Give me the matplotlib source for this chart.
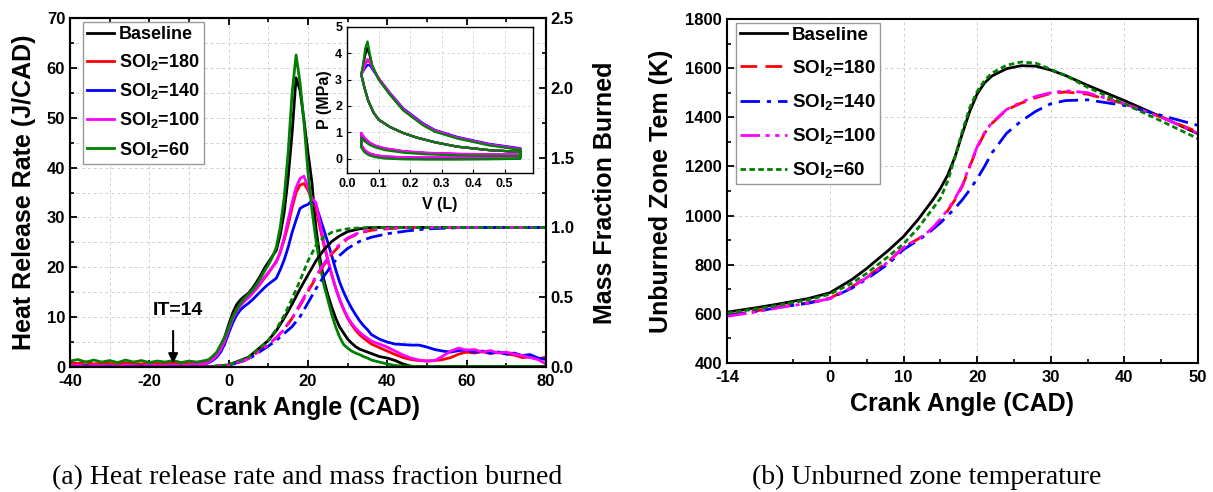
import numpy as np
import matplotlib
matplotlib.use('Agg')
import matplotlib.pyplot as plt
from matplotlib.ticker import MultipleLocator, FixedLocator

plt.rcParams['font.family'] = ['Liberation Sans', 'DejaVu Sans']
plt.rcParams['font.weight'] = 'bold'
plt.rcParams['axes.labelweight'] = 'bold'
plt.rcParams['mathtext.default'] = 'regular'
plt.rcParams['axes.unicode_minus'] = False

labels = ['Baseline', 'SOI$_2$=180', 'SOI$_2$=140', 'SOI$_2$=100', 'SOI$_2$=60']
colors = ['black', '#ff0000', '#0000ff', '#ff00ff', '#008000']

# ---- heat release rate (J/CAD) ----
hrr_cad = np.concatenate([np.arange(-40, -5, 2), np.arange(-5, 36, 1), np.arange(36, 81, 2)])
hrr_base = [0.4, 0.5, 0.3, 0.5, 0.4, 0.5, 0.3, 0.5, 0.4, 0.5, 0.4, 0.5, 0.3, 0.5, 0.4, 0.6, 0.5, 0.7,
            1.1, 1.6, 2.5, 4.0, 6.0, 8.5, 10.8, 12.5, 13.5, 14.2, 14.8, 15.8, 17.0, 18.3, 19.8, 21.0,
            22.2, 23.4, 26.5, 31.0, 38.0, 47.0, 58.0, 55.5, 49.5, 43.0, 37.0, 28.0, 22.0, 17.5, 14.5,
            12.0, 9.8, 8.0, 6.8, 5.6, 4.8, 4.1, 3.6, 3.3, 3.0,
            2.7, 2.1, 1.8, 1.3, 0.6, 0.15, 0.1, 0.1, 0.1, 0.1, 0.1, 0.1, 0.1, 0.1, 0.1, 0.1, 0.1,
            0.1, 0.1, 0.1, 0.1, 0.1, 0.1]
hrr_180 = [0.9, 0.7, 1.0, 0.6, 0.8, 0.7, 0.6, 0.8, 0.7, 0.6, 0.8, 0.7, 0.6, 0.8, 0.7, 0.7, 0.8, 0.9,
           1.2, 1.8, 2.6, 3.8, 5.5, 7.8, 10.0, 11.6, 12.6, 13.4, 14.0, 14.8, 15.7, 16.7, 17.8, 18.8,
           20.0, 21.2, 23.0, 25.5, 28.5, 32.0, 35.0, 36.5, 36.8, 35.5, 33.5, 32.0, 28.0, 24.5, 21.5,
           18.5, 15.8, 13.5, 11.5, 9.8, 8.5, 7.4, 6.5, 5.8, 5.2,
           4.6, 3.9, 3.2, 2.5, 1.9, 1.5, 1.3, 1.2, 1.3, 1.5, 1.9, 2.6, 3.0, 2.8, 3.1, 2.7, 3.0,
           2.6, 2.4, 1.9, 2.0, 1.6, 2.0]
hrr_140 = [0.2, 0.3, 0.1, 0.3, 0.2, 0.2, 0.1, 0.3, 0.2, 0.2, 0.3, 0.2, 0.2, 0.3, 0.2, 0.3, 0.4, 0.5,
           0.9, 1.3, 2.0, 3.0, 4.6, 6.8, 8.8, 10.4, 11.5, 12.2, 12.8, 13.5, 14.3, 15.1, 15.9, 16.6,
           17.2, 17.8, 19.5, 21.5, 24.0, 27.0, 29.5, 31.8, 32.3, 32.6, 33.4, 32.5, 30.0, 27.5, 25.0,
           22.3, 19.5, 17.0, 15.0, 13.3, 11.8, 10.5, 9.3, 8.3, 7.5,
           6.5, 5.6, 5.0, 4.6, 4.5, 4.4, 4.4, 4.0, 3.5, 3.2, 3.0, 3.3, 3.4, 3.0, 3.2, 2.8, 3.0,
           2.6, 2.8, 2.3, 2.5, 1.8, 1.5]
hrr_100 = [0.3, 0.4, 0.2, 0.4, 0.3, 0.3, 0.2, 0.4, 0.3, 0.2, 0.4, 0.3, 0.3, 0.4, 0.3, 0.4, 0.5, 0.6,
           1.0, 1.5, 2.3, 3.5, 5.2, 7.5, 9.6, 11.2, 12.3, 13.2, 13.9, 14.8, 15.8, 16.9, 18.0, 19.0,
           20.0, 21.0, 23.0, 26.0, 29.5, 33.0, 36.0, 37.8, 38.3, 36.0, 33.8, 33.0, 29.0, 25.0, 21.5,
           18.5, 15.8, 13.5, 11.6, 10.0, 8.8, 7.8, 7.0, 6.3, 5.8,
           5.2, 4.6, 4.0, 3.2, 2.4, 1.8, 1.4, 1.2, 1.3, 2.2, 3.2, 3.8, 3.4, 3.5, 3.0, 3.3, 2.8,
           3.0, 2.6, 2.3, 1.9, 1.5, 0.6]
hrr_60 = [1.2, 1.5, 1.0, 1.4, 1.0, 1.3, 0.9, 1.4, 1.0, 1.3, 0.9, 1.2, 1.0, 1.3, 0.9, 1.2, 1.0, 1.3,
          1.5, 2.2, 3.0, 4.5, 6.0, 8.0, 10.0, 11.5, 12.8, 13.8, 14.6, 15.4, 16.5, 17.8, 19.2, 20.5,
          22.0, 24.0, 28.0, 34.0, 43.0, 55.0, 62.6, 57.0, 49.0, 39.0, 31.5, 25.5, 20.5, 16.5, 13.5,
          10.5, 8.0, 6.0, 4.5, 3.8, 3.2, 2.8, 2.5, 2.1, 1.8,
          1.4, 1.0, 0.6, 0.3, 0.2, 0.15, 0.1, 0.1, 0.1, 0.1, 0.1, 0.1, 0.1, 0.1, 0.1, 0.1, 0.1,
          0.1, 0.1, 0.1, 0.1, 0.1, 0.1]

# ---- mass fraction burned ----
mfb_cad = [-40, -10, -5, 0, 5, 10, 12, 14, 16, 18, 20, 22, 24, 26, 28, 30, 33, 36, 40, 45, 50, 60, 70, 80]
mfb_base = [0, 0, 0.002, 0.015, 0.07, 0.19, 0.26, 0.35, 0.45, 0.56, 0.66, 0.76, 0.84, 0.90, 0.94,
            0.97, 0.99, 1.0, 1.0, 1.0, 1.0, 1.0, 1.0, 1.0]
mfb_180 = [0, 0, 0.002, 0.012, 0.06, 0.16, 0.21, 0.27, 0.35, 0.44, 0.54, 0.64, 0.73, 0.81, 0.87,
           0.92, 0.96, 0.98, 0.99, 1.0, 1.0, 1.0, 1.0, 1.0]
mfb_140 = [0, 0, 0.002, 0.012, 0.055, 0.15, 0.19, 0.24, 0.29, 0.36, 0.46, 0.56, 0.65, 0.73, 0.80,
           0.85, 0.90, 0.93, 0.955, 0.975, 0.99, 1.0, 1.0, 1.0]
mfb_100 = [0, 0, 0.002, 0.012, 0.06, 0.16, 0.21, 0.27, 0.35, 0.45, 0.55, 0.65, 0.74, 0.82, 0.88,
           0.925, 0.965, 0.985, 0.995, 1.0, 1.0, 1.0, 1.0, 1.0]
mfb_60 = [0, 0, 0.002, 0.015, 0.07, 0.19, 0.27, 0.37, 0.49, 0.62, 0.76, 0.87, 0.93, 0.965, 0.98,
          0.99, 0.997, 1.0, 1.0, 1.0, 1.0, 1.0, 1.0, 1.0]

# ---- P-V loops (inset) ----
pv_vol = [0.55, 0.45, 0.35, 0.278, 0.22, 0.178, 0.136, 0.10, 0.084, 0.067, 0.055, 0.047, 0.045,
          0.05, 0.058, 0.065, 0.072, 0.08, 0.10, 0.136, 0.178, 0.24, 0.278, 0.35, 0.45, 0.55,
          0.55, 0.45, 0.35, 0.25, 0.18, 0.12, 0.09, 0.07, 0.055, 0.045,
          0.045, 0.055, 0.07, 0.09, 0.12, 0.18, 0.25, 0.35, 0.45, 0.55, 0.55]
pv_comp = [0.25, 0.32, 0.45, 0.62, 0.80, 0.97, 1.20, 1.48, 1.75, 2.2, 2.7, 3.1, 3.2]
p_base = pv_comp + [3.45, 3.95, 4.2, 3.9, 3.5, 3.05, 2.45, 1.85, 1.30, 1.05, 0.78, 0.52, 0.35] + \
    [0.12, 0.13, 0.15, 0.19, 0.25, 0.36, 0.46, 0.58, 0.74, 0.92] + \
    [0.48, 0.29, 0.16, 0.09, 0.04, 0.01, 0.0, 0.0, 0.0, 0.01, 0.25]
p_180 = pv_comp + [3.3, 3.58, 3.72, 3.66, 3.43, 3.05, 2.48, 1.88, 1.32, 1.07, 0.80, 0.54, 0.37] + \
    [0.14, 0.15, 0.17, 0.21, 0.27, 0.38, 0.48, 0.61, 0.78, 0.96] + \
    [0.52, 0.32, 0.19, 0.12, 0.07, 0.04, 0.03, 0.03, 0.03, 0.04, 0.25]
p_140 = pv_comp + [3.3, 3.45, 3.55, 3.55, 3.40, 3.05, 2.50, 1.91, 1.35, 1.09, 0.82, 0.56, 0.39] + \
    [0.14, 0.15, 0.17, 0.21, 0.27, 0.38, 0.48, 0.61, 0.78, 0.95] + \
    [0.52, 0.32, 0.19, 0.12, 0.07, 0.04, 0.03, 0.03, 0.03, 0.04, 0.25]
p_100 = pv_comp + [3.3, 3.6, 3.78, 3.70, 3.45, 3.05, 2.48, 1.88, 1.32, 1.07, 0.80, 0.54, 0.37] + \
    [0.15, 0.16, 0.18, 0.22, 0.28, 0.39, 0.49, 0.62, 0.80, 0.98] + \
    [0.54, 0.34, 0.21, 0.13, 0.08, 0.05, 0.04, 0.04, 0.04, 0.05, 0.25]
p_60 = pv_comp + [3.5, 4.2, 4.45, 4.0, 3.55, 3.0, 2.42, 1.83, 1.27, 1.02, 0.76, 0.50, 0.33] + \
    [0.09, 0.10, 0.12, 0.16, 0.22, 0.32, 0.42, 0.53, 0.66, 0.80] + \
    [0.42, 0.24, 0.12, 0.05, 0.0, -0.03, -0.04, -0.04, -0.03, -0.01, 0.25]

# ---- unburned zone temperature (K) ----
tu_cad = [-14, -10, -7, -3, 0, 3, 5, 8, 10, 12, 13, 14, 15, 16, 17, 18, 19, 20, 21, 22, 24, 26,
          28, 30, 32, 35, 40, 45, 50]
tu_base = [607, 625, 640, 662, 686, 740, 785, 860, 915, 985, 1025, 1065, 1110, 1165, 1240, 1335,
           1425, 1495, 1540, 1568, 1598, 1610, 1608, 1592, 1570, 1530, 1468, 1402, 1333]
tu_180 = [595, 612, 628, 645, 664, 710, 750, 815, 872, 905, 925, 950, 982, 1020, 1065, 1120, 1200,
          1275, 1335, 1375, 1430, 1458, 1480, 1497, 1503, 1494, 1455, 1401, 1340]
tu_140 = [593, 610, 626, 643, 662, 705, 742, 805, 862, 900, 920, 945, 970, 1000, 1030, 1065, 1105,
          1150, 1200, 1255, 1335, 1385, 1425, 1455, 1468, 1471, 1448, 1408, 1367]
tu_100 = [590, 608, 625, 643, 662, 708, 748, 813, 870, 905, 925, 952, 985, 1025, 1070, 1125, 1205,
          1280, 1338, 1378, 1432, 1462, 1485, 1500, 1508, 1500, 1455, 1400, 1335]
tu_60 = [603, 620, 635, 657, 680, 725, 765, 835, 885, 950, 990, 1030, 1070, 1140, 1240, 1345, 1440,
         1505, 1550, 1580, 1612, 1625, 1620, 1595, 1570, 1522, 1455, 1385, 1313]

hrr_all = [hrr_base, hrr_180, hrr_140, hrr_100, hrr_60]
mfb_all = [mfb_base, mfb_180, mfb_140, mfb_100, mfb_60]
p_all = [p_base, p_180, p_140, p_100, p_60]
tu_all = [tu_base, tu_180, tu_140, tu_100, tu_60]
mfb_styles = ['-', (0, (5, 2.5)), (0, (6, 2, 1.5, 2)), (0, (6, 2, 1.5, 2, 1.5, 2)), (0, (2, 1.2))]
tu_styles = ['-', (0, (6, 3)), (0, (7, 2.5, 1.5, 2.5)), (0, (7, 2, 1.5, 2, 1.5, 2)), (0, (2, 1.2))]

fig = plt.figure(figsize=(12.13, 4.92), dpi=100)

# ---------------- (a) ----------------
ax = fig.add_axes([0.0577, 0.254, 0.3924, 0.7093])
ax2 = ax.twinx()
for y, c, lab in zip(hrr_all, colors, labels):
    ax.plot(hrr_cad, y, color=c, lw=2, label=lab)
for y, c, ls in zip(mfb_all, colors, mfb_styles):
    ax2.plot(mfb_cad, y, color=c, lw=2, linestyle=ls)

ax.set_xlim(-40, 80)
ax.set_ylim(0, 70)
ax2.set_ylim(0, 2.5)
ax.xaxis.set_major_locator(MultipleLocator(20))
ax.xaxis.set_minor_locator(MultipleLocator(10))
ax.yaxis.set_major_locator(MultipleLocator(10))
ax.yaxis.set_minor_locator(MultipleLocator(5))
ax2.yaxis.set_major_locator(MultipleLocator(0.5))
ax2.yaxis.set_minor_locator(MultipleLocator(0.25))
ax2.yaxis.set_major_formatter(plt.FormatStrFormatter('%.1f'))
ax.grid(True, which='both', color='#d0d0d0', linestyle=(0, (3, 3)), lw=0.7)
ax.tick_params(which='both', direction='in', labelsize=12, top=True)
ax.tick_params(which='major', length=5, width=1.3)
ax.tick_params(which='minor', length=3, width=1.2)
ax.tick_params(axis='x', pad=5)
ax2.tick_params(which='both', direction='in', labelsize=12)
ax2.tick_params(which='major', length=5, width=1.3)
ax2.tick_params(which='minor', length=3, width=1.2)
for a in (ax, ax2):
    for sp in a.spines.values():
        sp.set_linewidth(1.5)
ax.set_xlabel('Crank Angle (CAD)', fontsize=18, labelpad=5)
ax.set_ylabel('Heat Release Rate (J/CAD)', fontsize=18, labelpad=8)
ax2.set_ylabel('Mass Fraction Burned', fontsize=18, labelpad=14)

ax.annotate('', xy=(-14, 0.2), xytext=(-14, 7.8),
            arrowprops=dict(arrowstyle='-|>', color='black', lw=1.5, mutation_scale=14))
ax.text(-12.8, 11.3, 'IT=14', fontsize=14, ha='center', va='center')

leg = ax.legend(loc='upper left', bbox_to_anchor=(0.027, 0.989), borderaxespad=0,
                fontsize=13, handlelength=1.5, handletextpad=0.25, labelspacing=0.5,
                fancybox=False, edgecolor='#999999', framealpha=1, borderpad=0.25)
leg.get_frame().set_linewidth(1.0)

# inset P-V
axi = fig.add_axes([0.2861, 0.6484, 0.1533, 0.2968])
for p, c in zip(p_all, colors):
    axi.plot(pv_vol, p, color=c, lw=1.6)
axi.set_xlim(0, 0.59)
axi.set_ylim(-0.55, 5.0)
axi.xaxis.set_major_locator(FixedLocator([0.0, 0.1, 0.2, 0.3, 0.4, 0.5]))
axi.yaxis.set_major_locator(MultipleLocator(1))
axi.xaxis.set_major_formatter(plt.FormatStrFormatter('%.1f'))
axi.grid(True, color='#d0d0d0', linestyle=(0, (3, 3)), lw=0.6)
axi.tick_params(direction='in', labelsize=9, length=3)
for sp in axi.spines.values():
    sp.set_linewidth(1.0)
axi.set_xlabel('V (L)', fontsize=11.5, labelpad=5)
axi.set_ylabel('P (MPa)', fontsize=11.5, labelpad=2)

# ---------------- (b) ----------------
bx = fig.add_axes([0.5993, 0.2622, 0.3883, 0.6992])
for y, c, ls, lab in zip(tu_all, colors, tu_styles, labels):
    bx.plot(tu_cad, y, color=c, lw=2, linestyle=ls, label=lab)
bx.set_xlim(-14, 50)
bx.set_ylim(400, 1800)
bx.xaxis.set_major_locator(FixedLocator([-14, 0, 10, 20, 30, 40, 50]))
bx.xaxis.set_minor_locator(FixedLocator([-5, 5, 15, 25, 35, 45]))
bx.yaxis.set_major_locator(MultipleLocator(200))
bx.yaxis.set_minor_locator(MultipleLocator(100))
bx.grid(True, which='major', color='#d0d0d0', linestyle=(0, (3, 3)), lw=0.7)
bx.tick_params(which='both', direction='in', labelsize=12)
bx.tick_params(which='major', length=5, width=1.3)
bx.tick_params(which='minor', length=3, width=1.2)
bx.tick_params(axis='x', pad=5)
for sp in bx.spines.values():
    sp.set_linewidth(1.5)
bx.set_xlabel('Crank Angle (CAD)', fontsize=18, labelpad=5)
bx.set_ylabel('Unburned Zone Tem (K)', fontsize=18, labelpad=9)
leg2 = bx.legend(loc='upper left', bbox_to_anchor=(0.019, 0.988), borderaxespad=0,
                 fontsize=13.5, handlelength=2.5, handletextpad=0.3, labelspacing=0.75,
                 fancybox=False, edgecolor='#999999', framealpha=1, borderpad=0.2)
leg2.get_frame().set_linewidth(1.0)

fig.text(0.253, 0.03, '(a) Heat release rate and mass fraction burned', fontsize=20,
         family='Liberation Serif', weight='normal', ha='center', va='center')
fig.text(0.764, 0.03, '(b) Unburned zone temperature', fontsize=20,
         family='Liberation Serif', weight='normal', ha='center', va='center')

fig.savefig('out.png', dpi=100)
